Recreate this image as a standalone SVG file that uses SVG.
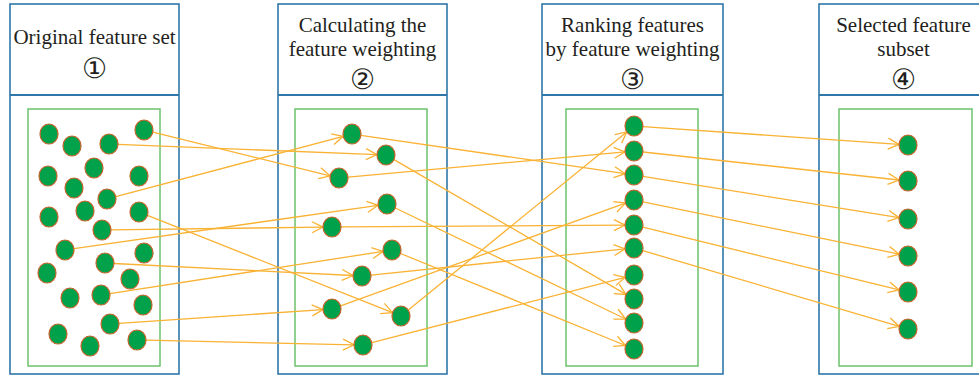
<svg xmlns="http://www.w3.org/2000/svg" width="979" height="379" viewBox="0 0 979 379">
  <style>
    .panel { fill: #ffffff; stroke: #2f77a8; stroke-width: 1.6; }
    .divider { stroke: #2f77a8; stroke-width: 2; }
    .inner { fill: none; stroke: #6cc26c; stroke-width: 1.5; }
    .title { font-family: "Liberation Serif", serif; font-size: 21px; fill: #231f20; text-anchor: middle; }
    .num { font-family: "DejaVu Sans", sans-serif; font-size: 28px; fill: #231f20; text-anchor: middle; }
    .node { fill: #00a14b; stroke: #c4652c; stroke-width: 1.2; }
    .link { fill: none; stroke: #f9b233; stroke-width: 1.3; marker-end: url(#arrow); }
  </style>
  <defs>
    <marker id="arrow" markerUnits="userSpaceOnUse" viewBox="-13 -7 14 14" refX="0" refY="0" markerWidth="14" markerHeight="14" orient="auto">
      <path d="M-11,-5.5 L0,0 L-11,5.5" fill="none" stroke="#f9b233" stroke-width="1.3"/>
    </marker>
  </defs>
  <rect width="979" height="379" fill="#ffffff"/>

  <!-- stage frames -->
  <g id="stage1">
    <rect class="panel" x="10" y="4" width="169" height="370"/>
    <line class="divider" x1="10" y1="95" x2="179" y2="95"/>
    <rect class="inner" x="28" y="109" width="132" height="257"/>
    <text class="title" x="94.5" y="43.5">Original feature set</text>
    <text class="num" x="94.5" y="78">①</text>
  </g>
  <g id="stage2">
    <rect class="panel" x="278" y="4" width="169" height="370"/>
    <line class="divider" x1="278" y1="95" x2="447" y2="95"/>
    <rect class="inner" x="295" y="109" width="132" height="257"/>
    <text class="title" x="362.5" y="31.5">Calculating the</text>
    <text class="title" x="362.5" y="56">feature weighting</text>
    <text class="num" x="362.5" y="89">②</text>
  </g>
  <g id="stage3">
    <rect class="panel" x="542" y="4" width="181" height="370"/>
    <line class="divider" x1="542" y1="95" x2="723" y2="95"/>
    <rect class="inner" x="566" y="109" width="132" height="257"/>
    <text class="title" x="632.5" y="31.5">Ranking features</text>
    <text class="title" x="632.5" y="56">by feature weighting</text>
    <text class="num" x="632.5" y="89">③</text>
  </g>
  <g id="stage4">
    <rect class="panel" x="819" y="4" width="170" height="370"/>
    <line class="divider" x1="819" y1="95" x2="989" y2="95"/>
    <rect class="inner" x="839" y="109" width="133" height="257"/>
    <text class="title" x="903.5" y="31.5">Selected feature</text>
    <text class="title" x="903.5" y="56">subset</text>
    <text class="num" x="903.5" y="89">④</text>
  </g>

  <!-- connectors -->
  <g id="connectors">
    <!-- original set to weighting -->
    <line class="link" x1="152.8" y1="132.2" x2="330.2" y2="175.8"/>
    <line class="link" x1="118" y1="144.4" x2="377" y2="154.6"/>
    <line class="link" x1="115.8" y1="196.7" x2="343.2" y2="136.3"/>
    <line class="link" x1="147.5" y1="215.4" x2="392.5" y2="312.6"/>
    <line class="link" x1="111" y1="229.9" x2="323" y2="227.1"/>
    <line class="link" x1="73.9" y1="248.7" x2="378.1" y2="205.3"/>
    <line class="link" x1="114" y1="263.5" x2="353" y2="275.5"/>
    <line class="link" x1="109.9" y1="293.6" x2="383.1" y2="251.4"/>
    <line class="link" x1="119" y1="323.4" x2="323" y2="309.6"/>
    <line class="link" x1="146" y1="340.2" x2="354" y2="344.8"/>
    <!-- weighting to ranking -->
    <line class="link" x1="360.9" y1="135.3" x2="625.1" y2="173.7"/>
    <line class="link" x1="348" y1="177.2" x2="625" y2="151.8"/>
    <line class="link" x1="394" y1="159.6" x2="626" y2="294.4"/>
    <line class="link" x1="395.3" y1="208" x2="625.7" y2="319"/>
    <line class="link" x1="400.5" y1="253.5" x2="625.5" y2="345.5"/>
    <line class="link" x1="341" y1="226.9" x2="625" y2="225.1"/>
    <line class="link" x1="371" y1="275.1" x2="625" y2="248.9"/>
    <line class="link" x1="340.6" y1="305.9" x2="625.4" y2="203.1"/>
    <line class="link" x1="408.3" y1="310.1" x2="626.7" y2="131.9"/>
    <line class="link" x1="371.8" y1="342.7" x2="625.2" y2="277.3"/>
    <!-- ranking to selected subset -->
    <line class="link" x1="643" y1="126.6" x2="899" y2="144.4"/>
    <line class="link" x1="643" y1="152" x2="899" y2="180"/>
    <line class="link" x1="642.9" y1="176.4" x2="899.1" y2="217.6"/>
    <line class="link" x1="642.9" y1="201.8" x2="899.2" y2="254.2"/>
    <line class="link" x1="642.8" y1="227.2" x2="899.2" y2="289.9"/>
    <line class="link" x1="642.7" y1="250.6" x2="899.3" y2="326.4"/>
  </g>

  <!-- original feature set -->
  <g id="features-original">
    <ellipse id="o1" class="node" cx="49" cy="134" rx="9" ry="10"/>
    <ellipse id="o2" class="node" cx="72" cy="146" rx="9" ry="10"/>
    <ellipse id="o3" class="node" cx="109" cy="144" rx="9" ry="10"/>
    <ellipse id="o4" class="node" cx="144" cy="130" rx="9" ry="10"/>
    <ellipse id="o5" class="node" cx="48" cy="176" rx="9" ry="10"/>
    <ellipse id="o6" class="node" cx="94" cy="168" rx="9" ry="10"/>
    <ellipse id="o7" class="node" cx="139" cy="176" rx="9" ry="10"/>
    <ellipse id="o8" class="node" cx="74" cy="188" rx="9" ry="10"/>
    <ellipse id="o9" class="node" cx="107" cy="199" rx="9" ry="10"/>
    <ellipse id="o10" class="node" cx="49" cy="217" rx="9" ry="10"/>
    <ellipse id="o11" class="node" cx="85" cy="211" rx="9" ry="10"/>
    <ellipse id="o12" class="node" cx="139" cy="212" rx="9" ry="10"/>
    <ellipse id="o13" class="node" cx="102" cy="230" rx="9" ry="10"/>
    <ellipse id="o14" class="node" cx="65" cy="250" rx="9" ry="10"/>
    <ellipse id="o15" class="node" cx="144" cy="253" rx="9" ry="10"/>
    <ellipse id="o16" class="node" cx="47" cy="273" rx="9" ry="10"/>
    <ellipse id="o17" class="node" cx="105" cy="263" rx="9" ry="10"/>
    <ellipse id="o18" class="node" cx="130" cy="279" rx="9" ry="10"/>
    <ellipse id="o19" class="node" cx="70" cy="298" rx="9" ry="10"/>
    <ellipse id="o20" class="node" cx="101" cy="295" rx="9" ry="10"/>
    <ellipse id="o21" class="node" cx="143" cy="305" rx="9" ry="10"/>
    <ellipse id="o22" class="node" cx="58" cy="334" rx="9" ry="10"/>
    <ellipse id="o23" class="node" cx="110" cy="324" rx="9" ry="10"/>
    <ellipse id="o24" class="node" cx="90" cy="346" rx="9" ry="10"/>
    <ellipse id="o25" class="node" cx="137" cy="340" rx="9" ry="10"/>
  </g>

  <!-- weighted features -->
  <g id="features-weighted">
    <ellipse id="w1" class="node" cx="352" cy="134" rx="9" ry="10"/>
    <ellipse id="w2" class="node" cx="386" cy="155" rx="9" ry="10"/>
    <ellipse id="w3" class="node" cx="339" cy="178" rx="9" ry="10"/>
    <ellipse id="w4" class="node" cx="387" cy="204" rx="9" ry="10"/>
    <ellipse id="w5" class="node" cx="332" cy="227" rx="9" ry="10"/>
    <ellipse id="w6" class="node" cx="392" cy="250" rx="9" ry="10"/>
    <ellipse id="w7" class="node" cx="362" cy="276" rx="9" ry="10"/>
    <ellipse id="w8" class="node" cx="332" cy="309" rx="9" ry="10"/>
    <ellipse id="w9" class="node" cx="401" cy="316" rx="9" ry="10"/>
    <ellipse id="w10" class="node" cx="363" cy="345" rx="9" ry="10"/>
  </g>

  <!-- ranked features -->
  <g id="features-ranked">
    <ellipse id="r1" class="node" cx="634" cy="126" rx="9" ry="10"/>
    <ellipse id="r2" class="node" cx="634" cy="151" rx="9" ry="10"/>
    <ellipse id="r3" class="node" cx="634" cy="175" rx="9" ry="10"/>
    <ellipse id="r4" class="node" cx="634" cy="200" rx="9" ry="10"/>
    <ellipse id="r5" class="node" cx="634" cy="225" rx="9" ry="10"/>
    <ellipse id="r6" class="node" cx="634" cy="248" rx="9" ry="10"/>
    <ellipse id="r7" class="node" cx="634" cy="275" rx="9" ry="10"/>
    <ellipse id="r8" class="node" cx="634" cy="299" rx="9" ry="10"/>
    <ellipse id="r9" class="node" cx="634" cy="323" rx="9" ry="10"/>
    <ellipse id="r10" class="node" cx="634" cy="349" rx="9" ry="10"/>
  </g>

  <!-- selected subset -->
  <g id="features-selected">
    <ellipse id="s1" class="node" cx="908" cy="145" rx="9" ry="10"/>
    <ellipse id="s2" class="node" cx="908" cy="181" rx="9" ry="10"/>
    <ellipse id="s3" class="node" cx="908" cy="219" rx="9" ry="10"/>
    <ellipse id="s4" class="node" cx="908" cy="256" rx="9" ry="10"/>
    <ellipse id="s5" class="node" cx="908" cy="292" rx="9" ry="10"/>
    <ellipse id="s6" class="node" cx="908" cy="329" rx="9" ry="10"/>
  </g>
</svg>
